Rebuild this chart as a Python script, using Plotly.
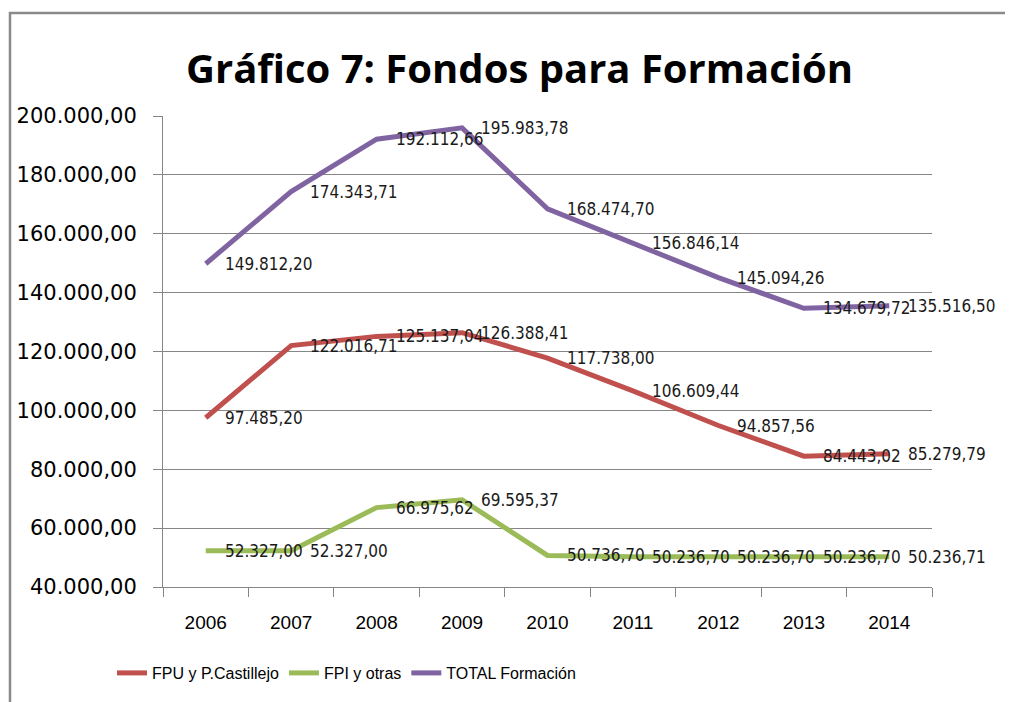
import plotly.graph_objects as go

years = ["2006", "2007", "2008", "2009", "2010", "2011", "2012", "2013", "2014"]
fpu = [97485.20, 122016.71, 125137.04, 126388.41, 117738.00, 106609.44, 94857.56, 84443.02, 85279.79]
fpi = [52327.00, 52327.00, 66975.62, 69595.37, 50736.70, 50236.70, 50236.70, 50236.70, 50236.71]
total = [149812.20, 174343.71, 192112.66, 195983.78, 168474.70, 156846.14, 145094.26, 134679.72, 135516.50]

series = [
    ("FPU y P.Castillejo", fpu, "#C0504D"),
    ("FPI y otras", fpi, "#9BBB59"),
    ("TOTAL Formación", total, "#8064A2"),
]

def es_fmt(v):
    s = f"{v:,.2f}"
    return s.replace(",", "X").replace(".", ",").replace("X", ".")

OFF = 8  # page body margin
W, H = 1013 - OFF, 702 - OFF
L, R, T, B = 163 - OFF, 932 - OFF, 116 - OFF, 587 - OFF

def px(p):
    return (p - OFF - L) / (R - L)

def py(p):
    return (B - (p - OFF)) / (B - T)

fig = go.Figure()
annotations = []
for name, vals, color in series:
    fig.add_trace(go.Scatter(x=list(range(len(years))), y=vals, mode="lines", name=name,
                             line=dict(color=color, width=5)))
    for i, v in enumerate(vals):
        annotations.append(dict(x=i, y=v, xref="x", yref="y", text=es_fmt(v),
                                showarrow=False, xanchor="left", yanchor="middle",
                                xshift=17, yshift=0,
                                font=dict(family="DejaVu Sans Condensed, DejaVu Sans", size=17, color="#1a1a1a")))

annotations.append(dict(text="<b>Gráfico 7: Fondos para Formación</b>", xref="paper", yref="paper",
                        x=px(519), y=py(67), xanchor="center", yanchor="middle",
                        showarrow=False, font=dict(family="Open Sans", size=40, color="#000000")))

fig.update_layout(
    width=W, height=H,
    margin=dict(l=L, r=W - R, t=T, b=H - B, autoexpand=False),
    paper_bgcolor="white", plot_bgcolor="white",
    separators=",.",
    showlegend=True,
    legend=dict(orientation="h", x=px(112), y=py(673), xanchor="left", yanchor="middle",
                font=dict(family="Liberation Sans, Arial, sans-serif", size=16, color="#000000"),
                itemwidth=30, tracegroupgap=0, bgcolor="rgba(0,0,0,0)"),
    annotations=annotations,
    shapes=[dict(type="rect", xref="paper", yref="paper", x0=px(10), x1=px(1030), y0=py(720), y1=py(13),
                 line=dict(color="#8a8a8a", width=2.5), fillcolor="rgba(0,0,0,0)", layer="below")],
    xaxis=dict(range=[-0.5, 8.5], tickmode="array", tickvals=list(range(len(years))), ticktext=years,
               showgrid=False, showline=True, zeroline=False,
               linecolor="#868686", linewidth=1, ticks="", automargin=False, ticklabelstandoff=18,
               tickfont=dict(family="Liberation Sans, Arial, sans-serif", size=19, color="#000000")),
    xaxis2=dict(overlaying="x", range=[-0.5, 8.5], tickmode="linear", tick0=-0.5, dtick=1,
                showticklabels=False, showgrid=False, ticks="outside", ticklen=9, tickcolor="#868686",
                side="bottom", anchor="y", zeroline=False),
    yaxis=dict(range=[40000, 200000], dtick=20000, tick0=40000, tickformat=",.2f",
               showgrid=True, gridcolor="#868686", gridwidth=1, showline=True,
               linecolor="#868686", linewidth=1, ticks="outside", ticklen=9, tickcolor="#868686",
               automargin=False, ticklabelstandoff=12, zeroline=False,
               tickfont=dict(family="DejaVu Sans", size=21, color="#000000")),
)
# invisible trace to activate the boundary-tick axis
fig.add_trace(go.Scatter(x=[0], y=[40000], xaxis="x2", mode="markers", marker=dict(opacity=0),
                         showlegend=False, hoverinfo="skip"))

fig.write_html("out.html")
